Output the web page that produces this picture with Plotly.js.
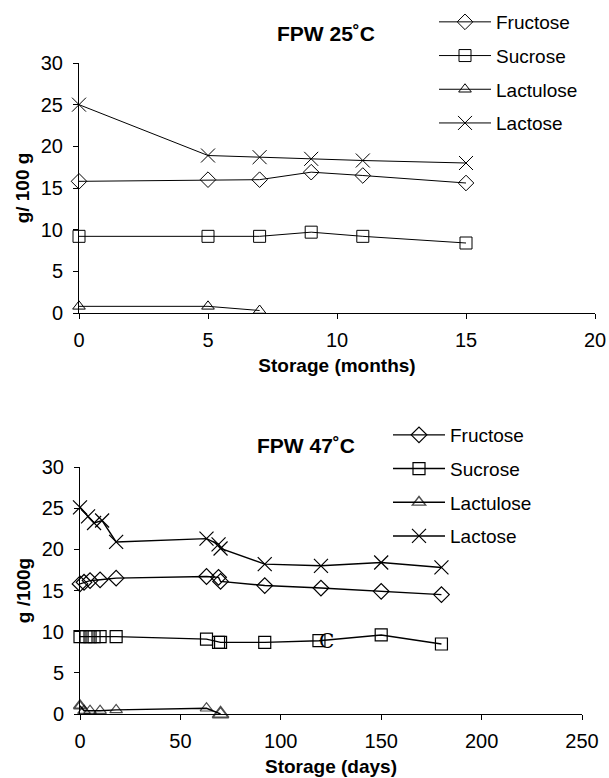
<!DOCTYPE html>
<html><head><meta charset="utf-8">
<script src="https://cdn.plot.ly/plotly-3.0.1.min.js"></script>
<style>html,body{margin:0;padding:0;background:#fff}#chart{width:609px;height:778px}</style>
</head><body><div id="chart"></div>
<script>
// ---- Top chart: FPW 25˚C (storage in months) ----
const seriesNames = ['Fructose', 'Sucrose', 'Lactulose', 'Lactose'];
const monthsFructose = [0, 5, 7, 9, 11, 15];
const fructose25 = [15.8, 16.0, 16.0, 16.9, 16.5, 15.6];
const monthsSucrose = [0, 5, 7, 9, 11, 15];
const sucrose25 = [9.2, 9.2, 9.2, 9.7, 9.2, 8.4];
const monthsLactulose = [0, 5, 7];
const lactulose25 = [0.8, 0.8, 0.3];
const monthsLactose = [0, 5, 7, 9, 11, 15];
const lactose25 = [25.0, 18.9, 18.7, 18.5, 18.3, 18.0];

// ---- Bottom chart: FPW 47˚C (storage in days) ----
const daysFructose = [0, 2, 5, 10, 18, 63, 69, 70, 92, 120, 150, 180];
const fructose47 = [15.8, 16.0, 16.2, 16.3, 16.5, 16.7, 16.6, 16.1, 15.6, 15.3, 14.9, 14.5];
const daysSucrose = [0, 3, 5, 7, 10, 18, 63, 69, 70, 92, 119, 150, 180];
const sucrose47 = [9.4, 9.4, 9.4, 9.4, 9.4, 9.4, 9.1, 8.7, 8.7, 8.7, 8.9, 9.6, 8.5];
const daysLactulose = [0, 2, 5, 10, 18, 63, 70];
const lactulose47 = [1.0, 0.4, 0.4, 0.4, 0.5, 0.7, 0.0];
const daysLactose = [0, 4, 7, 11, 18, 63, 69, 70, 92, 120, 150, 180];
const lactose47 = [25.1, 24.0, 23.2, 23.5, 20.9, 21.3, 20.6, 20.1, 18.2, 18.0, 18.4, 17.8];

// stray glyph printed next to the sucrose point near day 120
const strayGlyph = {day: 123, value: 8.9, text: 'C'};

const titles = ['FPW 25˚C', 'FPW 47˚C'];
const xTitles = ['Storage (months)', 'Storage (days)'];
const yTitles = ['g/ 100 g', 'g /100g'];

const FONT = 'Liberation Sans, Arial, Helvetica, sans-serif';
const symbols = ['diamond-open', 'square-open', 'triangle-up-open', 'x-thin-open'];
const sizes = [12, 12, 11, 14];

function mk(x, y, i, xa, ya, leg, lw, mlw, extra) {
  const t = {
    x: x, y: y, name: seriesNames[i], type: 'scatter', mode: 'lines+markers',
    xaxis: xa, yaxis: ya, legend: leg, legendgroup: leg + i, cliponaxis: false,
    line: {color: '#000', width: lw},
    marker: {symbol: symbols[i], size: sizes[i], color: '#000', line: {color: '#000', width: mlw}}
  };
  if (extra) extra(t);
  return t;
}

const data = [
  mk(monthsFructose, fructose25, 0, 'x', 'y', 'legend', 1, 1),
  mk(monthsSucrose, sucrose25, 1, 'x', 'y', 'legend', 1, 1),
  mk(monthsLactulose, lactulose25, 2, 'x', 'y', 'legend', 1, 1),
  mk(monthsLactose, lactose25, 3, 'x', 'y', 'legend', 1, 1),
  mk(daysFructose, fructose47, 0, 'x2', 'y2', 'legend2', 1.4, 1.2),
  mk(daysSucrose, sucrose47, 1, 'x2', 'y2', 'legend2', 1.4, 1.2),
  mk(daysLactulose, lactulose47, 2, 'x2', 'y2', 'legend2', 1.4, 1.2, t => {
    t.marker.size = daysLactulose.map((d, k) => k === daysLactulose.length - 1 ? 14 : 11);
    t.marker.line.width = daysLactulose.map((d, k) => (k === daysLactulose.length - 1 || k === 0) ? 2 : 1.2);
  }),
  mk(daysLactose, lactose47, 3, 'x2', 'y2', 'legend2', 1.4, 1.2)
];

const axBase = {
  showline: true, linecolor: '#000', linewidth: 1, mirror: false,
  ticks: 'outside', ticklen: 5, tickwidth: 1, tickcolor: '#000',
  showgrid: false, zeroline: false, tickfont: {size: 20, family: FONT, color: '#000'},
  fixedrange: true
};

function xax(domain, anchor, range, dtick, title) {
  return Object.assign({}, axBase, {
    domain: domain, anchor: anchor, range: range, dtick: dtick, tick0: 0,
    ticklabelstandoff: 4,
    title: {text: '<b>' + title + '</b>', font: {size: 19, family: FONT, color: '#000'}, standoff: 8}
  });
}
function yax(domain, anchor, title) {
  return Object.assign({}, axBase, {
    domain: domain, anchor: anchor, range: [0, 30], dtick: 5, tick0: 0,
    ticklabelstandoff: 6,
    title: {text: '<b>' + title + '</b>', font: {size: 19, family: FONT, color: '#000'}, standoff: 6}
  });
}

const W = 609, H = 778;
const legBase = {
  xanchor: 'left', yanchor: 'top', bgcolor: 'rgba(0,0,0,0)', borderwidth: 0,
  font: {size: 19, family: FONT, color: '#000'}, traceorder: 'grouped', tracegroupgap: 6,
  itemwidth: 52, itemclick: false, itemdoubleclick: false
};

const layout = {
  width: W, height: H, margin: {l: 0, r: 0, t: 0, b: 0},
  paper_bgcolor: '#fff', plot_bgcolor: 'rgba(0,0,0,0)',
  font: {family: FONT, size: 20, color: '#000'},
  showlegend: true, hovermode: false,
  xaxis: xax([79 / W, 595 / W], 'y', [0, 20], 5, xTitles[0]),
  yaxis: yax([1 - 313 / H, 1 - 63 / H], 'x', yTitles[0]),
  xaxis2: xax([80 / W, 582 / W], 'y2', [0, 250], 50, xTitles[1]),
  yaxis2: yax([1 - 714 / H, 1 - 467 / H], 'x2', yTitles[1]),
  legend: Object.assign({}, legBase, {x: 434 / W, y: 1 - 3 / H}),
  legend2: Object.assign({}, legBase, {x: 388 / W, y: 1 - 416 / H}),
  annotations: [
    {text: '<b>' + titles[0] + '</b>', xref: 'paper', yref: 'paper', x: 326 / W, y: 1 - 33 / H,
     xanchor: 'center', yanchor: 'middle', showarrow: false, font: {size: 21, family: FONT, color: '#000'}},
    {text: '<b>' + titles[1] + '</b>', xref: 'paper', yref: 'paper', x: 306 / W, y: 1 - 445 / H,
     xanchor: 'center', yanchor: 'middle', showarrow: false, font: {size: 21, family: FONT, color: '#000'}},
    {text: strayGlyph.text, xref: 'x2', yref: 'y2', x: strayGlyph.day, y: strayGlyph.value,
     xanchor: 'center', yanchor: 'middle', showarrow: false,
     font: {size: 20, family: 'DejaVu Serif, serif', color: '#000'}}
  ]
};

Plotly.newPlot('chart', data, layout, {staticPlot: true, displayModeBar: false});
</script>
</body></html>
